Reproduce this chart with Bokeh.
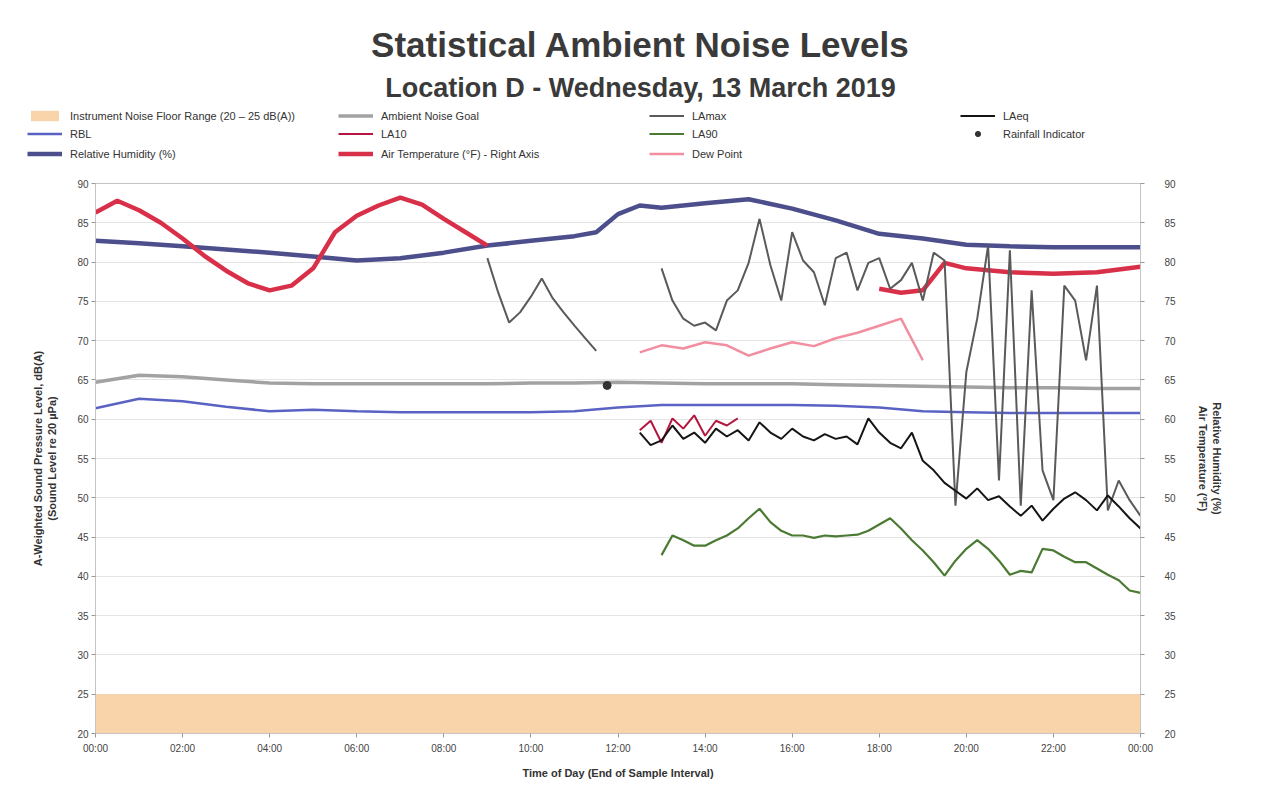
import numpy as np
from bokeh.plotting import figure
from bokeh.layouts import column, row
from bokeh.models import (Range1d, LinearAxis, FixedTicker, Legend, LegendItem, Label)
from bokeh.embed import file_html
from bokeh.resources import INLINE

FONT = "Liberation Sans"

TITLE = "Statistical Ambient Noise Levels"
SUBTITLE = "Location D - Wednesday, 13 March 2019"
X_TITLE = "Time of Day (End of Sample Interval)"
Y_TITLE = "A-Weighted Sound Pressure Level, dB(A)\n(Sound Level re 20 \u00b5Pa)"
Y2_TITLE = "Relative Humidity (%)\nAir Temperature (\u00b0F)"

# axis ticks
tick_hours = [0, 2, 4, 6, 8, 10, 12, 14, 16, 18, 20, 22, 24]
tick_labels = ["00:00", "02:00", "04:00", "06:00", "08:00", "10:00", "12:00",
               "14:00", "16:00", "18:00", "20:00", "22:00", "00:00"]
level_ticks = [20, 25, 30, 35, 40, 45, 50, 55, 60, 65, 70, 75, 80, 85, 90]

# equipment noise floor band, dB(A)
floor_t = [0, 24]
floor_low = [20, 20]
floor_high = [25, 25]

# hourly criteria / background levels, dB(A)
hourly_t = [0, 1, 2, 3, 4, 5, 6, 7, 8, 9, 10, 11, 12, 13, 14, 15, 16, 17, 18,
            19, 20, 21, 22, 23, 24]
ambient_goal = [64.7, 65.6, 65.4, 65.0, 64.6, 64.5, 64.5, 64.5, 64.5, 64.5, 64.6,
                64.6, 64.7, 64.6, 64.5, 64.5, 64.5, 64.4, 64.3, 64.2, 64.1, 64.0,
                64.0, 63.9, 63.9]
rbl = [61.4, 62.6, 62.3, 61.6, 61.0, 61.2, 61.0, 60.9, 60.9, 60.9, 60.9, 61.0,
       61.5, 61.8, 61.8, 61.8, 61.8, 61.7, 61.5, 61.0, 60.9, 60.8, 60.8, 60.8, 60.8]

# relative humidity (%)
hum_t = [0, 1, 2, 3, 4, 5, 6, 7, 8, 9, 10, 11, 11.5, 12, 12.5, 13, 14, 15, 16,
         17, 18, 19, 20, 21, 22, 23, 24]
humidity = [82.7, 82.4, 82.0, 81.6, 81.2, 80.7, 80.2, 80.5, 81.2, 82.1, 82.7, 83.3,
            83.8, 86.1, 87.2, 86.9, 87.5, 88.0, 86.8, 85.3, 83.6, 83.0, 82.2, 82.0,
            81.9, 81.9, 81.9]

# air temperature (deg F), logger offline mid-day
temp_t = [0, 0.5, 1, 1.5, 2, 2.5, 3, 3.5, 4, 4.5, 5, 5.5, 6, 6.5, 7, 7.5, 8, 8.5, 9,
          13.5, 18, 18.5, 19, 19.5, 20, 21, 22, 23, 24]
temperature = [86.3, 87.8, 86.6, 85.0, 83.0, 80.8, 78.9, 77.3, 76.4, 77.0, 79.2,
               83.8, 85.9, 87.2, 88.2, 87.3, 85.5, 83.8, 82.1, np.nan, 76.6, 76.1,
               76.4, 79.9, 79.2, 78.7, 78.5, 78.7, 79.4]

# dew point (deg F)
dew_t = [12.5, 13, 13.5, 14, 14.5, 15, 15.5, 16, 16.5, 17, 17.5, 18, 18.5, 19]
dew_point = [68.5, 69.4, 69.0, 69.8, 69.4, 68.1, 69.0, 69.8, 69.3, 70.3, 71.0,
             71.9, 72.8, 67.5]

# 15-minute statistical noise levels, dB(A)
lamax_start = 9.0
lamax = [80.5, 76.1, 72.3, 73.6, 75.6, 77.9, 75.4, 73.6, 71.9, 70.3, 68.7,
         np.nan, np.nan, np.nan, np.nan, np.nan,
         79.2, 75.1, 72.8, 71.9, 72.3, 71.3, 75.1, 76.4, 79.9, 85.5, 79.6, 75.1,
         83.8, 80.2, 78.7, 74.5, 80.5, 81.2, 76.4, 79.9, 80.5, 76.6, 77.7, 79.9,
         75.1, 81.2, 80.2, 49.0, 66.0, 72.8, 82.1, 52.2, 81.5, 49.0, 76.4, 53.5,
         49.7, 77.0, 75.1, 67.5, 77.0, 48.4, 52.2, 49.7, 47.7]

laeq_start = 12.5
laeq = [58.3, 56.7, 57.3, 59.2, 57.5, 58.3, 57.0, 58.8, 57.8, 58.6, 57.3, 59.6,
        58.3, 57.5, 58.8, 57.8, 57.3, 58.1, 57.5, 57.8, 56.8, 60.1, 58.3, 57.0,
        56.3, 58.3, 54.7, 53.5, 51.9, 50.9, 49.9, 51.2, 49.7, 50.2, 48.9, 47.7,
        49.0, 47.1, 48.6, 49.9, 50.7, 49.7, 48.4, 50.3, 48.9, 47.4, 46.1]

la10_start = 12.5
la10 = [58.6, 59.8, 57.0, 60.1, 58.8, 60.5, 57.9, 59.8, 59.2, 60.1]

la90_start = 13.0
la90 = [42.7, 45.2, 44.6, 43.9, 43.9, 44.6, 45.2, 46.1, 47.4, 48.6, 46.9, 45.8,
        45.2, 45.2, 44.9, 45.2, 45.1, 45.2, 45.3, 45.8, 46.6, 47.4, 46.1, 44.6,
        43.3, 41.8, 40.1, 42.0, 43.5, 44.6, 43.5, 42.0, 40.2, 40.7, 40.5, 43.5,
        43.3, 42.5, 41.8, 41.8, 41.0, 40.2, 39.5, 38.2, 37.9]

# rainfall indicator
rain_t = [11.75]
rain_level = [64.3]


def quarter_hours(start, n):
    return [start + 0.25 * i for i in range(n)]


# line styles shared by the chart and its key
STY = {
    "floor": dict(fill_color="#f7c48e", fill_alpha=0.75),
    "goal": dict(line_color="#a2a2a2", line_width=3.5),
    "rbl": dict(line_color="#5a63c4", line_width=2.5),
    "hum": dict(line_color="#4c4f8c", line_width=4.5),
    "temp": dict(line_color="#d9304a", line_width=4.5),
    "dew": dict(line_color="#f28ea0", line_width=2.5),
    "lamax": dict(line_color="#5a5a5a", line_width=2),
    "la10": dict(line_color="#b5163f", line_width=2),
    "laeq": dict(line_color="#151515", line_width=2),
    "la90": dict(line_color="#4b7a33", line_width=2.2),
    "rain": dict(marker="circle", size=8, fill_color="#333333", line_color="#333333"),
}

# ---- main chart ----
p = figure(width=1266, height=616, output_backend="svg", toolbar_location=None,
           x_range=Range1d(0, 24), y_range=Range1d(20, 90),
           min_border_left=95, min_border_right=126, min_border_top=8,
           min_border_bottom=58, background_fill_color="white",
           border_fill_color="white")
p.outline_line_color = "#c4c4c4"
p.xgrid.grid_line_color = None
p.ygrid.grid_line_color = "#e4e4e4"
p.ygrid.ticker = FixedTicker(ticks=level_ticks)
p.extra_y_ranges = {"met": Range1d(20, 90)}

p.xaxis.ticker = FixedTicker(ticks=tick_hours)
p.xaxis.major_label_overrides = {h: lab for h, lab in zip(tick_hours, tick_labels)}
p.xaxis.axis_label = X_TITLE
p.yaxis.ticker = FixedTicker(ticks=level_ticks)
p.yaxis.axis_label = Y_TITLE

right = LinearAxis(y_range_name="met", ticker=FixedTicker(ticks=level_ticks),
                   axis_label=Y2_TITLE)
p.add_layout(right, "right")

for ax in [p.xaxis[0], p.yaxis[0], right]:
    ax.axis_line_color = "#c4c4c4"
    ax.major_tick_line_color = "#999999"
    ax.minor_tick_line_color = None
    ax.major_tick_in = 0
    ax.major_tick_out = 4
    ax.major_label_text_font = FONT
    ax.major_label_text_font_size = "10px"
    ax.major_label_text_color = "#444444"
    ax.axis_label_text_font = FONT
    ax.axis_label_text_font_size = "11px"
    ax.axis_label_text_font_style = "bold"
    ax.axis_label_text_color = "#333333"
p.xaxis.major_label_standoff = 5
p.xaxis.axis_label_standoff = 10
p.yaxis.major_label_standoff = 3
p.yaxis.axis_label_standoff = 16
right.major_label_standoff = 20
right.axis_label_standoff = 18

p.varea(x=floor_t, y1=floor_low, y2=floor_high, **STY["floor"])
p.line(hourly_t, ambient_goal, **STY["goal"])
p.line(hourly_t, rbl, **STY["rbl"])
p.line(hum_t, humidity, y_range_name="met", **STY["hum"])
p.line(temp_t, temperature, y_range_name="met", **STY["temp"])
p.line(dew_t, dew_point, y_range_name="met", **STY["dew"])
p.line(quarter_hours(lamax_start, len(lamax)), lamax, **STY["lamax"])
p.line(quarter_hours(la10_start, len(la10)), la10, **STY["la10"])
p.line(quarter_hours(laeq_start, len(laeq)), laeq, **STY["laeq"])
p.line(quarter_hours(la90_start, len(la90)), la90, **STY["la90"])
p.scatter(rain_t, rain_level, **STY["rain"])

# ---- heading and key (pixel coordinates) ----
head = figure(width=1266, height=175, output_backend="svg", toolbar_location=None,
              x_range=Range1d(0, 1266), y_range=Range1d(175, 0),
              x_axis_type=None, y_axis_type=None, min_border=0,
              outline_line_color=None, background_fill_color="white",
              border_fill_color="white")

# key swatches: one empty point each, so only the legend glyph shows
nan1 = [np.nan]
key = {}
key["floor"] = head.varea(x=nan1, y1=nan1, y2=nan1, **STY["floor"])
for k in ["goal", "rbl", "hum", "temp", "dew", "lamax", "la10", "laeq", "la90"]:
    key[k] = head.line(nan1, nan1, **STY[k])
key["rain"] = head.scatter(nan1, nan1, **STY["rain"])

rows = [
    [("Instrument Noise Floor Range (20 \u2013 25 dB(A))", "floor"),
     ("Ambient Noise Goal", "goal"), ("LAmax", "lamax"), ("LAeq", "laeq")],
    [("RBL", "rbl"), ("LA10", "la10"), ("LA90", "la90"),
     ("Rainfall Indicator", "rain")],
    [("Relative Humidity (%)", "hum"),
     ("Air Temperature (\u00b0F) - Right Axis", "temp"), ("Dew Point", "dew")],
]
row_y = [53, 35, 15]
for items, vy in zip(rows, row_y):
    lg = Legend(items=[LegendItem(label=t, renderers=[key[k]]) for t, k in items],
                location=(27, vy), orientation="horizontal",
                glyph_width=35, glyph_height=13, label_standoff=8,
                label_width=268, label_height=13, spacing=0, padding=0, margin=0,
                background_fill_alpha=0, border_line_alpha=0,
                label_text_font=FONT, label_text_font_size="11px",
                label_text_color="#333333")
    head.add_layout(lg, "center")

head.add_layout(Label(x=640, y=44, text=TITLE, text_align="center",
                      text_baseline="middle", text_font=FONT,
                      text_font_size="35px", text_font_style="bold",
                      text_color="#3a3a3a"))
head.add_layout(Label(x=640, y=87, text=SUBTITLE, text_align="center",
                      text_baseline="middle", text_font=FONT,
                      text_font_size="27px", text_font_style="bold",
                      text_color="#3a3a3a"))

layout = column(row(head), p, spacing=0)
open("out.html", "w").write(file_html(layout, INLINE))
